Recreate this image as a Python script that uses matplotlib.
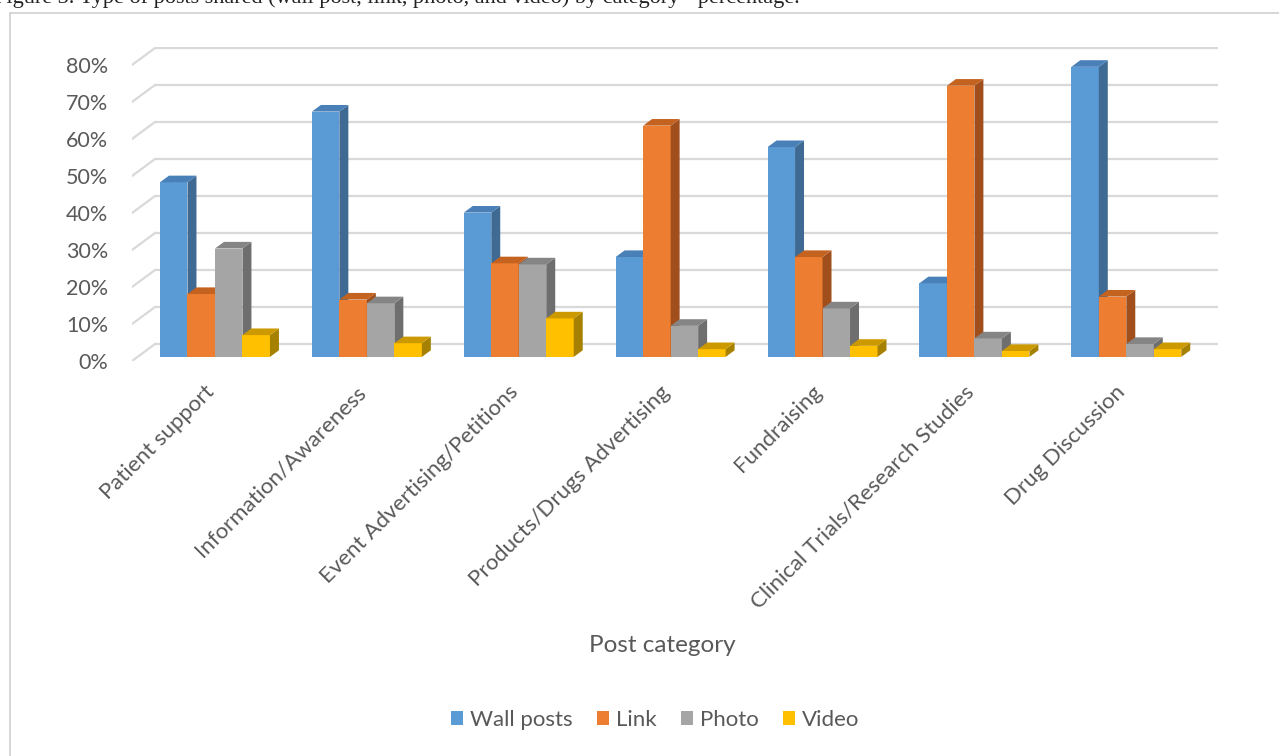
import matplotlib
matplotlib.use("Agg")
import matplotlib.pyplot as plt
from matplotlib.patches import Patch, Rectangle

# ---------------------------------------------------------------------------
# Data (percent of posts per category)
# ---------------------------------------------------------------------------
categories = [
    "Patient support",
    "Information/Awareness",
    "Event Advertising/Petitions",
    "Products/Drugs Advertising",
    "Fundraising",
    "Clinical Trials/Research Studies",
    "Drug Discussion",
]
series_names = ["Wall posts", "Link", "Photo", "Video"]
wall_posts = [47.2, 66.3, 39.0, 27.0, 56.7, 19.9, 78.4]
link = [17.0, 15.5, 25.3, 62.5, 27.0, 73.3, 16.3]
photo = [29.3, 14.5, 25.0, 8.4, 13.1, 5.0, 3.5]
video = [5.9, 3.7, 10.4, 2.1, 3.0, 1.6, 2.1]
y_ticks = [0, 10, 20, 30, 40, 50, 60, 70, 80]

# face / side / top shades for the fake 3D columns
face_colors = ["#5B9BD5", "#ED7D31", "#A5A5A5", "#FFC000"]
side_colors = ["#3E6A94", "#A04E1C", "#6E6E6E", "#A68100"]
top_colors = ["#4A80B8", "#C4621F", "#858585", "#CC9A00"]

TEXT = "#595959"
GRID = "#D9D9D9"
FONT = "Lato"

# ---------------------------------------------------------------------------
# Geometry of the pseudo 3D box (in data units)
# ---------------------------------------------------------------------------
DX, DY = 0.1514, 4.59      # full depth offset of the back wall
F0, F1 = 0.24, 0.63        # depth range occupied by the columns
W = 0.181                  # column width
X_MAX = 6.65
Y_MAX = 84.86

W_PX, H_PX = 1279, 756
fig = plt.figure(figsize=(W_PX / 100, H_PX / 100), dpi=100)
ax = fig.add_axes([132 / W_PX, 1 - 361 / H_PX, (1218 - 132) / W_PX, (361 - 47) / H_PX])
ax.set_xlim(-0.5, X_MAX)
ax.set_ylim(0, Y_MAX)
ax.set_clip_on(False)
for sp in ax.spines.values():
    sp.set_visible(False)

# back wall gridlines + left wall diagonals
for v in y_ticks:
    ax.plot([-0.5 + DX, X_MAX], [v + DY, v + DY], color=GRID, lw=1.6, zorder=1,
            solid_capstyle="butt")
    ax.plot([-0.5, -0.5 + DX], [v, v + DY], color=GRID, lw=1.6, zorder=1)

# columns
all_series = [wall_posts, link, photo, video]
base = F0 * DY
bdx, bdy = (F1 - F0) * DX, (F1 - F0) * DY
for s, vals in enumerate(all_series):
    xs = [i + (s - 1.5) * W + F0 * DX + 0.01 for i in range(len(categories))]
    z = 3 + s
    ax.bar(xs, vals, width=W, bottom=base, color=face_colors[s], zorder=z,
           linewidth=0)
    for x, v in zip(xs, vals):
        xl, xr = x - W / 2, x + W / 2
        top = base + v
        # right side face
        ax.fill([xr, xr + bdx, xr + bdx, xr],
                [base, base + bdy, top + bdy, top],
                color=side_colors[s], zorder=z, lw=0)
        # top face
        ax.fill([xl, xr, xr + bdx, xl + bdx],
                [top, top, top + bdy, top + bdy],
                color=top_colors[s], zorder=z, lw=0)

# y axis labels (front plane)
ax.set_yticks(y_ticks)
ax.set_yticklabels([f"{v}%" for v in y_ticks], fontsize=15.5, color=TEXT,
                   fontfamily=FONT)
ax.tick_params(axis="y", length=0, pad=17)

# category labels
ax.set_xticks([i + 0.02 for i in range(len(categories))])
ax.set_xticklabels(categories, rotation=45, ha="right", va="center",
                   rotation_mode="anchor", fontsize=16, color=TEXT,
                   fontfamily=FONT)
ax.tick_params(axis="x", length=0, pad=20)

fig.text(662 / W_PX, 1 - 645 / H_PX, "Post category", ha="center", va="center",
         fontsize=17.5, color=TEXT, fontfamily=FONT)

handles = [Patch(facecolor=c, edgecolor="none") for c in face_colors]
fig.legend(handles, series_names, loc="center", ncol=4,
           bbox_to_anchor=(655 / W_PX, 1 - 720 / H_PX), frameon=False,
           handlelength=0.55, handleheight=0.55, handletextpad=0.3,
           columnspacing=1.1, prop={"family": FONT, "size": 16},
           labelcolor=TEXT)

# chart frame and clipped figure caption above it (cut off in the source too)
fig.add_artist(Rectangle((10 / W_PX, -0.1), 1.2, 1.1 - 13 / H_PX,
                         transform=fig.transFigure, fill=False,
                         edgecolor="#D0D0D0", lw=1.2))
fig.text(800 / W_PX, 1 - 2.5 / H_PX,
         "Figure 3. Type of posts shared (wall post, link, photo, and video) "
         "by category - percentage.",
         ha="right", va="baseline", fontsize=16, color="#222222",
         fontfamily="Liberation Serif")

fig.savefig("out.png", dpi=100, facecolor="white")
